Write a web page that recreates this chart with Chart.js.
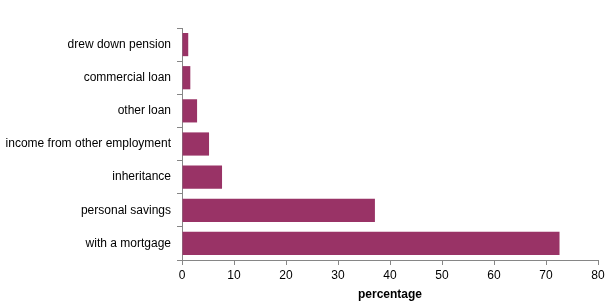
<!DOCTYPE html>
<html>
<head>
<meta charset="utf-8">
<script src="https://cdn.jsdelivr.net/npm/chart.js@4"></script>
<style>
  html, body { margin: 0; padding: 0; background: #fff; }
  #wrap { width: 613px; height: 302px; }
</style>
</head>
<body>
<div id="wrap"><canvas id="chart" width="613" height="302"></canvas></div>
<script>
const categories = [
  'drew down pension',
  'commercial loan',
  'other loan',
  'income from other employment',
  'inheritance',
  'personal savings',
  'with a mortgage'
];
const values = [1.2, 1.6, 2.9, 5.2, 7.7, 37.1, 72.6];
const xTicks = [0, 10, 20, 30, 40, 50, 60, 70, 80];

const axisColor = '#868686';
const barColor = '#993366';
const textColor = '#000';
const font = { family: 'Liberation Sans, Arial, sans-serif', size: 12 };

new Chart(document.getElementById('chart'), {
  type: 'bar',
  data: {
    labels: categories,
    datasets: [{
      data: values,
      backgroundColor: barColor,
      borderWidth: 0,
      categoryPercentage: 0.7,
      barPercentage: 1
    }]
  },
  options: {
    indexAxis: 'y',
    responsive: false,
    animation: false,
    layout: { padding: { top: 28, right: 15, left: 0, bottom: 0 } },
    plugins: { legend: { display: false }, tooltip: { enabled: false } },
    scales: {
      y: {
        grid: {
          offset: true,
          drawOnChartArea: false,
          drawTicks: true,
          tickLength: 5,
          color: axisColor
        },
        border: { color: axisColor, width: 1 },
        ticks: { color: textColor, font: font, padding: 6 },
        afterFit: (scale) => { scale.width = 182; }
      },
      x: {
        min: 0,
        max: 80,
        afterBuildTicks: (scale) => { scale.ticks = xTicks.map(v => ({ value: v })); },
        grid: {
          drawOnChartArea: false,
          drawTicks: true,
          tickLength: 5,
          color: axisColor
        },
        border: { color: axisColor, width: 1 },
        ticks: { color: textColor, font: font, padding: 3, maxRotation: 0 },
        title: {
          display: true,
          text: 'percentage',
          color: textColor,
          font: { family: font.family, size: 12, weight: 'bold' },
          padding: { top: 2, bottom: 0 }
        },
        afterFit: (scale) => { scale.height = 42; }
      }
    }
  }
});
</script>
</body>
</html>
